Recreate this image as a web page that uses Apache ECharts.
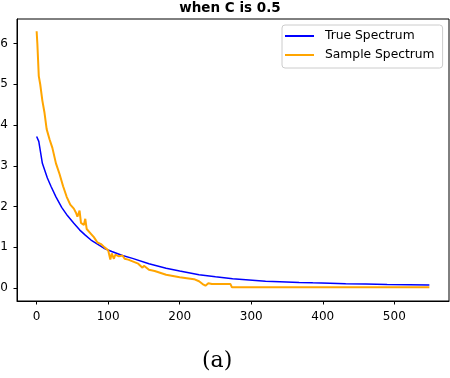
<!DOCTYPE html>
<html>
<head>
<meta charset="utf-8">
<script src="https://cdn.jsdelivr.net/npm/echarts@6/dist/echarts.min.js"></script>
<style>html,body{margin:0;padding:0;background:#fff}#c{width:450px;height:378px}</style>
</head>
<body>
<div id="c"></div>
<script>
var titleText = 'when C is 0.5';
var captionText = '(a)';
var seriesNames = ['True Spectrum', 'Sample Spectrum'];
var xTicks = [0, 100, 200, 300, 400, 500];
var yTicks = [0, 1, 2, 3, 4, 5, 6];

var trueX = [0, 3, 8, 15, 20, 27, 35, 43, 52, 60, 68, 76, 85, 94, 105, 120, 134, 157, 181, 200, 227, 250, 274, 297, 320, 340, 367, 386, 410, 432, 460, 490, 520, 549];
var trueY = [3.72, 3.6, 3.06, 2.7, 2.5, 2.24, 1.98, 1.78, 1.59, 1.43, 1.3, 1.18, 1.08, 0.98, 0.9, 0.8, 0.73, 0.6, 0.49, 0.42, 0.33, 0.28, 0.23, 0.2, 0.17, 0.16, 0.14, 0.13, 0.12, 0.105, 0.1, 0.09, 0.085, 0.08];

var sampleX = [0, 1, 3, 5, 8, 11, 14, 18, 22, 27, 32, 37, 42, 47, 52, 55, 57, 60, 62, 66, 68, 70, 75, 80, 85, 90, 95, 100, 103, 105, 108, 110, 115, 120, 123, 128, 135, 142, 148, 150, 157, 165, 181, 200, 220, 227, 232, 236, 240, 245, 266, 271, 273, 549];
var sampleY = [6.3, 6.0, 5.2, 5.0, 4.6, 4.3, 3.9, 3.65, 3.44, 3.06, 2.8, 2.5, 2.24, 2.05, 1.95, 1.85, 1.75, 1.9, 1.6, 1.55, 1.7, 1.45, 1.35, 1.25, 1.12, 1.08, 1.0, 0.93, 0.7, 0.85, 0.72, 0.82, 0.78, 0.8, 0.72, 0.7, 0.65, 0.6, 0.5, 0.55, 0.45, 0.42, 0.33, 0.27, 0.22, 0.17, 0.1, 0.06, 0.12, 0.1, 0.1, 0.1, 0.02, 0.02];

function pairs(xs, ys) { return xs.map(function (x, i) { return [x, ys[i]]; }); }

var chart = echarts.init(document.getElementById('c'), null, {renderer: 'canvas'});
var font = 'DejaVu Sans';
chart.setOption({
  animation: false,
  backgroundColor: '#fff',
  title: {
    text: titleText, left: 230, top: 1, textAlign: 'center', padding: 0,
    textStyle: {fontFamily: font, fontSize: 13.5, fontWeight: 'bold', color: '#000'}
  },
  legend: {
    left: 282, top: 25, orient: 'vertical',
    backgroundColor: 'rgba(255,255,255,0.8)', borderColor: '#cccccc', borderWidth: 1, borderRadius: 3,
    padding: [4, 8, 6, 3], itemGap: 5, itemWidth: 29, itemHeight: 2, icon: 'rect',
    textStyle: {fontFamily: font, fontSize: 12.3, color: '#000', padding: [0, 0, 0, 6], lineHeight: 14},
    data: seriesNames
  },
  grid: {left: 17, right: 1, top: 19, bottom: 77, outerBoundsMode: 'none', containLabel: false,
         show: true, borderColor: '#000', borderWidth: 1, backgroundColor: 'transparent'},
  xAxis: {
    type: 'value', min: -27.45, max: 576.45,
    splitLine: {show: false},
    axisLine: {show: true, onZero: false, lineStyle: {color: '#000', width: 1}},
    axisTick: {show: true, length: 3.5, lineStyle: {color: '#000'}, customValues: xTicks},
    axisLabel: {color: '#000', fontFamily: font, fontSize: 12, margin: 10, customValues: xTicks}
  },
  yAxis: {
    type: 'value', min: -0.315, max: 6.6,
    splitLine: {show: false},
    axisLine: {show: true, onZero: false, lineStyle: {color: '#000', width: 1}},
    axisTick: {show: true, length: 3.5, lineStyle: {color: '#000'}, customValues: yTicks},
    axisLabel: {color: '#000', fontFamily: font, fontSize: 12, margin: 9, customValues: yTicks}
  },
  graphic: [{
    type: 'text', left: 202, top: 350,
    style: {text: captionText, font: '22px "DejaVu Serif"', fill: '#000'}
  }],
  series: [
    {name: seriesNames[0], type: 'line', data: pairs(trueX, trueY), showSymbol: false, color: '#0000ff',
     lineStyle: {width: 1.5, color: '#0000ff'}, z: 2},
    {name: seriesNames[1], type: 'line', data: pairs(sampleX, sampleY), showSymbol: false, color: '#ffa500',
     lineStyle: {width: 2, color: '#ffa500'}, z: 3}
  ]
});
</script>
</body>
</html>
